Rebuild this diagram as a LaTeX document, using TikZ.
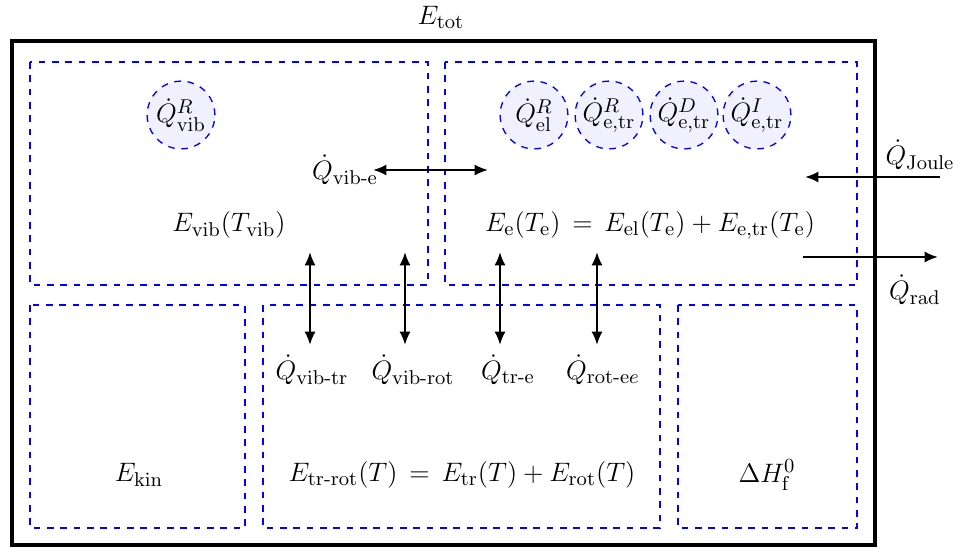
\documentclass[tikz,border=0pt]{standalone}
\usepackage{amsmath}
\usetikzlibrary{arrows.meta}
\begin{document}
\begin{tikzpicture}[x=0.45pt,y=-0.45pt,font=\fontsize{12.8}{15}\selectfont,
  region/.style={draw=blue,dashed,line width=0.9pt},
  src/.style={circle,draw=blue,dashed,line width=0.6pt,fill=blue!6,minimum size=30.5pt,inner sep=0pt},
  flux/.style={line width=1pt,{Latex[length=6pt,width=5pt]}-{Latex[length=6pt,width=5pt]}},
  oneway/.style={line width=1pt,-{Latex[length=6pt,width=5pt]}},
  lbl/.style={inner sep=1pt}]
\useasboundingbox (0,0) rectangle (956,547);
% outer box
\draw[line width=1.4pt] (12,41) rectangle (875,545);
\node[lbl] (etot) at (441,17) {$E_{\mathrm{tot}}$};
% regions
\draw[region] (30,62) rectangle (428,285);
\draw[region] (445,62) rectangle (857,285);
\draw[region] (30,305) rectangle (245,528);
\draw[region] (263,305) rectangle (660,528);
\draw[region] (678,305) rectangle (857,528);
% sources
\node[src] (qvib) at (181,115) {$\dot Q^{R}_{\mathrm{vib}}$};
\node[src] (qel) at (534,115) {$\dot Q^{R}_{\mathrm{el}}$};
\node[src] (qetrR) at (609,115) {$\dot Q^{R}_{\mathrm{e,tr}}$};
\node[src] (qetrD) at (684,115) {$\dot Q^{D}_{\mathrm{e,tr}}$};
\node[src] (qetrI) at (757,115) {$\dot Q^{I}_{\mathrm{e,tr}}$};
% energies
\node[lbl] (evib) at (229,225) {$E_{\mathrm{vib}}(T_{\mathrm{vib}})$};
\node[lbl] (ee) at (650,225) {$E_{\mathrm{e}}(T_{\mathrm{e}})\,=\,E_{\mathrm{el}}(T_{\mathrm{e}})+E_{\mathrm{e,tr}}(T_{\mathrm{e}})$};
\node[lbl] (ekin) at (139,475) {$E_{\mathrm{kin}}$};
\node[lbl] (etr) at (462,475) {$E_{\mathrm{tr\text{-}rot}}(T)\,=\,E_{\mathrm{tr}}(T)+E_{\mathrm{rot}}(T)$};
\node[lbl] (dh) at (767,475) {$\Delta H^{0}_{\mathrm{f}}$};
% vib-e exchange
\node[lbl] (qve) at (345,170) {$\dot Q_{\mathrm{vib\text{-}e}}$};
\coordinate (ve1) at (373,170);
\coordinate (ve2) at (488,170);
\draw[flux] (ve1) -- (ve2);
% vertical exchanges
\coordinate (a1t) at (310,252); \coordinate (a1b) at (310,345);
\coordinate (a2t) at (405,252); \coordinate (a2b) at (405,345);
\coordinate (a3t) at (500,252); \coordinate (a3b) at (500,345);
\coordinate (a4t) at (597,252); \coordinate (a4b) at (597,345);
\draw[flux] (a1t) -- (a1b);
\draw[flux] (a2t) -- (a2b);
\draw[flux] (a3t) -- (a3b);
\draw[flux] (a4t) -- (a4b);
\node[lbl] (qvt) at (312,370) {$\dot Q_{\mathrm{vib\text{-}tr}}$};
\node[lbl] (qvr) at (413,370) {$\dot Q_{\mathrm{vib\text{-}rot}}$};
\node[lbl] (qte) at (508,370) {$\dot Q_{\mathrm{tr\text{-}e}}$};
\node[lbl] (qre) at (603,370) {$\dot Q_{\mathrm{rot\text{-}e}e}$};
% external fluxes
\coordinate (j1) at (940,177); \coordinate (j2) at (805,177);
\draw[oneway] (j1) -- (j2);
\node[lbl] (qj) at (920,155) {$\dot Q_{\mathrm{Joule}}$};
\coordinate (r1) at (803,257); \coordinate (r2) at (938,257);
\draw[oneway] (r1) -- (r2);
\node[lbl] (qr) at (915,290) {$\dot Q_{\mathrm{rad}}$};
\end{tikzpicture}
\end{document}
